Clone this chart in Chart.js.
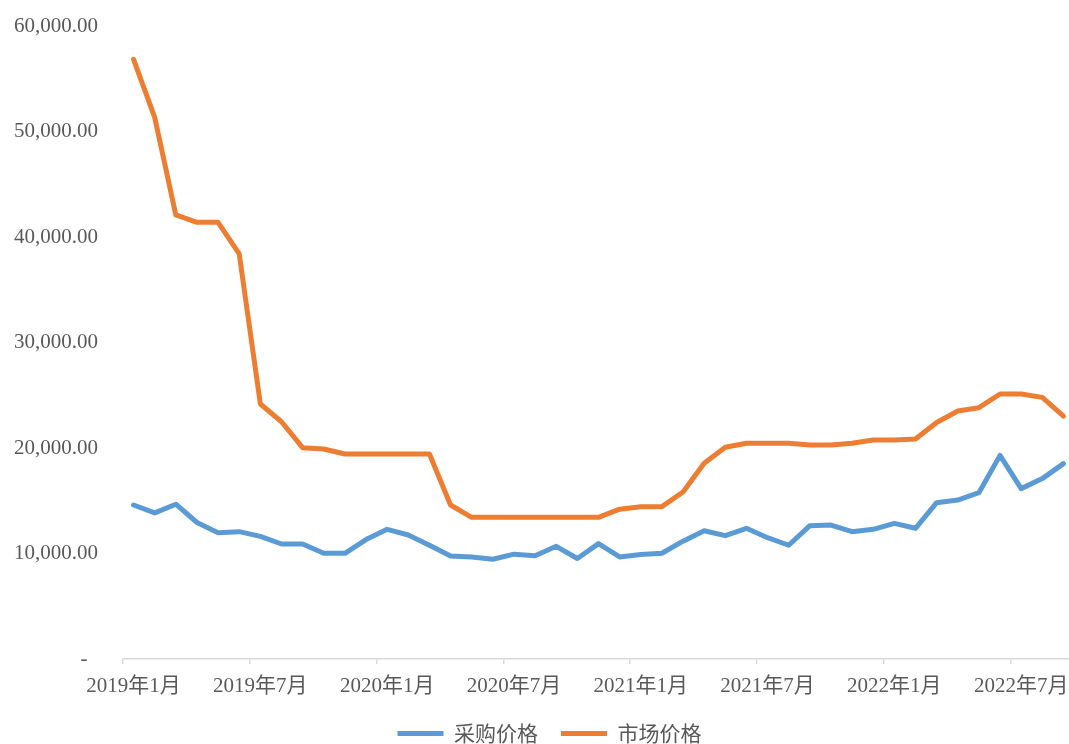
<!DOCTYPE html>
<html>
<head>
<meta charset="utf-8">
<script src="https://cdn.jsdelivr.net/npm/chart.js@4/dist/chart.umd.min.js"></script>
<style>
html,body{margin:0;padding:0;background:#fff;}
#wrap{width:1069px;height:744px;position:relative;}
</style>
</head>
<body>
<div id="wrap"><canvas id="c" width="1069" height="744"></canvas></div>
<script>
const categories = [
  '2019年1月','2019年2月','2019年3月','2019年4月','2019年5月','2019年6月','2019年7月','2019年8月','2019年9月','2019年10月','2019年11月','2019年12月',
  '2020年1月','2020年2月','2020年3月','2020年4月','2020年5月','2020年6月','2020年7月','2020年8月','2020年9月','2020年10月','2020年11月','2020年12月',
  '2021年1月','2021年2月','2021年3月','2021年4月','2021年5月','2021年6月','2021年7月','2021年8月','2021年9月','2021年10月','2021年11月','2021年12月',
  '2022年1月','2022年2月','2022年3月','2022年4月','2022年5月','2022年6月','2022年7月','2022年8月','2022年9月'
];
const purchasePrice = [
  14600, 13850, 14670, 12940, 11970, 12070, 11620, 10900, 10900, 10020, 10020, 11320,
  12290, 11750, 10790, 9770, 9670, 9450, 9940, 9790, 10680, 9530, 10940, 9670,
  9900, 10020, 11170, 12160, 11690, 12390, 11500, 10780, 12640, 12700, 12070, 12290,
  12860, 12390, 14820, 15070, 15760, 19300, 16150, 17100, 18520
];
const marketPrice = [
  56840, 51340, 42090, 41390, 41390, 38390, 24170, 22490, 20030, 19900, 19430, 19430,
  19430, 19430, 19430, 14600, 13430, 13430, 13430, 13430, 13430, 13430, 13430, 14200,
  14440, 14440, 15830, 18550, 20070, 20450, 20450, 20450, 20280, 20280, 20450, 20760,
  20760, 20850, 22420, 23510, 23820, 25120, 25120, 24800, 23030
];
const seriesNames = ['采购价格', '市场价格'];
const yTicks = [0, 10000, 20000, 30000, 40000, 50000, 60000];

const serif = "'Liberation Serif', 'Noto Sans CJK SC', serif";
const sans = "'Noto Sans CJK SC', 'Noto Sans', sans-serif";

// The source plot area runs a few pixels past the right edge of the picture.
const layoutTweaks = {
  id: 'layoutTweaks',
  afterLayout(chart) {
    if (chart.legend) { chart.legend.left += 30; }
    const x = chart.scales.x;
    const extra = 5;
    x.right += extra;
    x.width += extra;
    x.configure();
    chart.chartArea.right += extra;
    chart.chartArea.width += extra;
  }
};

new Chart(document.getElementById('c'), {
  type: 'line',
  data: {
    labels: categories,
    datasets: [
      { label: seriesNames[0], data: purchasePrice, borderColor: '#5B9BD5', backgroundColor: '#5B9BD5',
        borderWidth: 5, pointRadius: 0, tension: 0, borderJoinStyle: 'round', borderCapStyle: 'round' },
      { label: seriesNames[1], data: marketPrice, borderColor: '#ED7D31', backgroundColor: '#ED7D31',
        borderWidth: 5, pointRadius: 0, tension: 0, borderJoinStyle: 'round', borderCapStyle: 'round' }
    ]
  },
  plugins: [layoutTweaks],
  options: {
    responsive: false,
    animation: false,
    layout: { padding: { top: 0, right: 0, bottom: -10, left: 0 } },
    plugins: {
      tooltip: { enabled: false },
      legend: {
        position: 'bottom',
        labels: {
          usePointStyle: true,
          pointStyle: 'line',
          pointStyleWidth: 46,
          padding: 23,
          color: '#595959',
          font: { family: sans, size: 21 }
        }
      }
    },
    scales: {
      x: {
        type: 'category',
        offset: true,
        afterFit: (s) => { s.height = 41; },
        border: { display: true, color: '#D9D9D9', width: 1.5 },
        grid: {
          display: true, drawOnChartArea: false, drawTicks: true, tickLength: 5, offset: true,
          color: (ctx) => (ctx.index % 6 === 0 ? '#D9D9D9' : 'rgba(0,0,0,0)'),
          lineWidth: 1.5
        },
        ticks: {
          autoSkip: false, maxRotation: 0, minRotation: 0, padding: 10,
          color: '#595959', font: { family: serif, size: 21 },
          callback: (v, i) => (i % 6 === 0 ? categories[i] : '')
        }
      },
      y: {
        min: 0, max: 60000,
        afterBuildTicks: (s) => { s.ticks = yTicks.map(v => ({ value: v })); },
        afterFit: (s) => { s.width = 123; s.paddingTop = 26; s.paddingBottom = 0; },
        border: { display: false },
        grid: { display: false, drawTicks: false },
        ticks: {
          padding: 25, color: '#595959', font: { family: serif, size: 21 },
          callback: (v) => (v === 0 ? '-  ' : v.toLocaleString('en-US', { minimumFractionDigits: 2, maximumFractionDigits: 2 }))
        }
      }
    }
  }
});
</script>
</body>
</html>
